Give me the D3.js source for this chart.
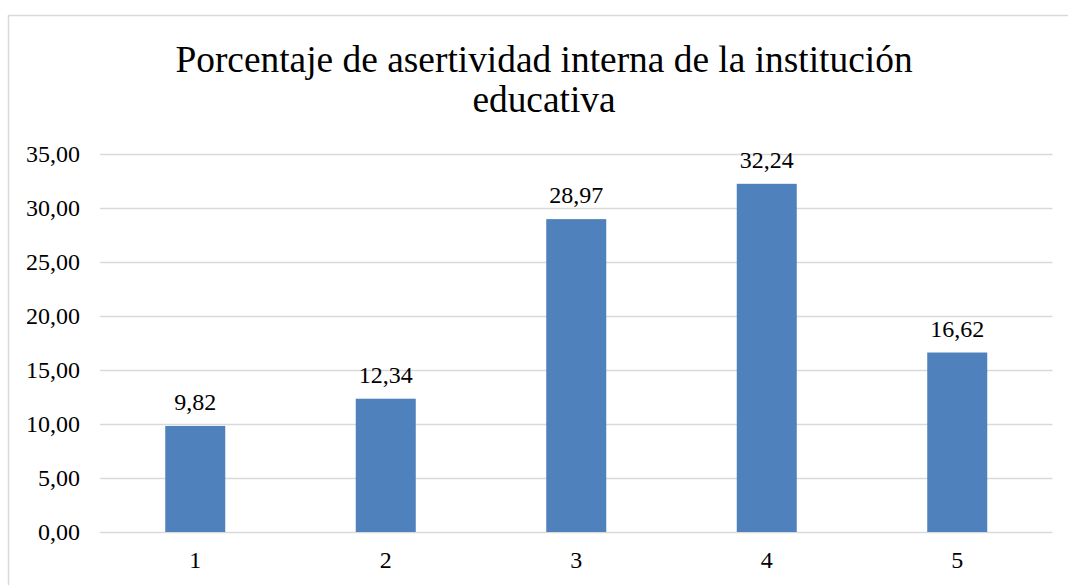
<!DOCTYPE html>
<html><head><meta charset="utf-8">
<script src="https://cdn.jsdelivr.net/npm/d3@7"></script>
<style>body{margin:0;background:#fff}svg{display:block}text{font-family:"Liberation Serif","Times New Roman",serif;fill:#000}</style>
</head><body><svg id="c" width="1068" height="585"></svg>
<script>
const categories = ["1","2","3","4","5"];
const values = [9.82, 12.34, 28.97, 32.24, 16.62];
const yTicks = [0,5,10,15,20,25,30,35];
const titleLines = ["Porcentaje de asertividad interna de la institución","educativa"];

const svg = d3.select("#c");
svg.append("rect").attr("x",8.5).attr("y",15.5).attr("width",1100).attr("height",600)
  .attr("fill","#fff").attr("stroke","#d9d9d9").attr("stroke-width",1.5);

const x = d3.scaleBand().domain(categories).range([100,1052.5]).paddingInner(0.685).paddingOuter(0.3425);
const y = d3.scaleLinear().domain([0,35]).range([532,154]);
const fmt = v => d3.format(".2f")(v).replace(".",",");

svg.append("g").selectAll("line").data(yTicks).join("line")
  .attr("x1",100).attr("x2",1052.5).attr("y1",d=>Math.round(y(d))+0.5).attr("y2",d=>Math.round(y(d))+0.5)
  .attr("stroke","#d9d9d9").attr("stroke-width",1.5);

svg.append("g").selectAll("text").data(yTicks).join("text")
  .attr("x",80).attr("y",d=>y(d)+8).attr("text-anchor","end").style("font-size","24px").text(fmt);

svg.append("g").selectAll("rect").data(values).join("rect")
  .attr("x",(d,i)=>x(categories[i])).attr("width",x.bandwidth())
  .attr("y",d=>y(d)).attr("height",d=>y(0)-y(d)).attr("fill","#4f81bd");

svg.append("g").selectAll("text").data(values).join("text")
  .attr("x",(d,i)=>x(categories[i])+x.bandwidth()/2).attr("y",d=>y(d)-16)
  .attr("text-anchor","middle").style("font-size","24px").text(fmt);

svg.append("g").selectAll("text").data(categories).join("text")
  .attr("x",d=>x(d)+x.bandwidth()/2).attr("y",568).attr("text-anchor","middle").style("font-size","24px").text(d=>d);

svg.append("g").selectAll("text").data(titleLines).join("text")
  .attr("x",544).attr("y",(d,i)=>71.5+i*40.5).attr("text-anchor","middle").style("font-size","37.4px").text(d=>d);
</script></body></html>
